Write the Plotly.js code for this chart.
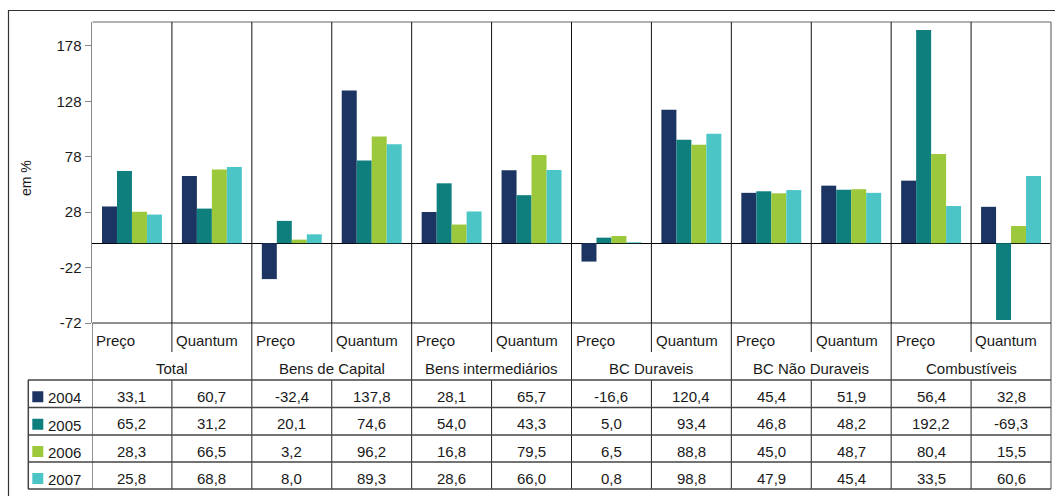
<!DOCTYPE html>
<html><head><meta charset="utf-8">
<script src="https://cdn.plot.ly/plotly-3.0.1.min.js"></script>
<style>html,body{margin:0;padding:0;background:#fff}#chart{width:1055px;height:496px}</style>
</head><body><div id="chart"></div>
<script>
const groups = ["Total","Bens de Capital","Bens intermediários","BC Duraveis","BC Não Duraveis","Combustíveis"];
const subLabels = ["Preço","Quantum"];
const years = ["2004","2005","2006","2007"];
const v2004 = [33.1,60.7,-32.4,137.8,28.1,65.7,-16.6,120.4,45.4,51.9,56.4,32.8];
const v2005 = [65.2,31.2,20.1,74.6,54.0,43.3,5.0,93.4,46.8,48.2,192.2,-69.3];
const v2006 = [28.3,66.5,3.2,96.2,16.8,79.5,6.5,88.8,45.0,48.7,80.4,15.5];
const v2007 = [25.8,68.8,8.0,89.3,28.6,66.0,0.8,98.8,47.9,45.4,33.5,60.6];
const yTicks = [-72,-22,28,78,128,178];
const yTitle = "em %";

const series = [v2004, v2005, v2006, v2007];
const colors = ["#1c3462","#0f7f7e","#9cc83c","#4cc5c6"];
const FONT = "Liberation Sans, Arial, sans-serif";
const TXT = "#1a1a1a";

const nCat = groups.length * subLabels.length;
const idx = Array.from({length:nCat}, (_, i) => i);

const P = {l:92, t:22, w:959, h:301};
const px = p => (p - P.l) / P.w;
const py = p => (P.t + P.h - p) / P.h;

const traces = series.map((vals, s) => ({
  type: "bar", x: idx, y: vals, name: years[s],
  marker: {color: colors[s], line: {width: 0}},
  hoverinfo: "skip", showlegend: false
}));

const shapes = [];
const line = (x0, y0, x1, y1, color, width, xref) => shapes.push({
  type: "line", xref: xref || "paper", yref: "paper", x0, y0, x1, y1,
  line: {color, width}
});

// outer frame
shapes.push({type:"rect", xref:"paper", yref:"paper", x0:px(8.5), x1:px(1070), y0:py(10.5), y1:py(520), line:{color:"#333", width:1.2}});
// plot top and right borders
line(px(92.5), 1, px(1051), 1, "#999", 1.5);
line(px(1051), 1, px(1051), py(489), "#888", 1.5);
// plot bottom
line(px(92.5), 0, px(1051), 0, "#222", 1);
// category separators inside plot
for (let k = 1; k < nCat; k++) line(k - 0.5, 0, k - 0.5, 1, "#111", 1, "x");
// separators below plot
for (let k = 0; k < nCat; k++) {
  if (k % 2 === 0) line(k - 0.5, 0, k - 0.5, py(489), "#222", 1, "x");
  else { line(k - 0.5, 0, k - 0.5, py(352), "#222", 1, "x"); line(k - 0.5, py(380), k - 0.5, py(489), "#222", 1, "x"); }
}
// table horizontal lines
const rowLines = [380, 407.5, 435, 462, 489];
rowLines.forEach(r => line(px(28), py(r), px(1051), py(r), "#444", 1.5));
line(px(28.3), py(380), px(28.3), py(489), "#444", 1.5);

const annotations = [];
// y title
annotations.push({xref:"paper", yref:"paper", x:px(26), y:py(178), xanchor:"center", yanchor:"middle", text:yTitle, textangle:-90, showarrow:false, font:{family:FONT, size:14, color:TXT}});
// sub labels
idx.forEach(i => annotations.push({xref:"x", yref:"paper", x:i - 0.47, y:py(340), xanchor:"left", yanchor:"middle", text:subLabels[i % 2], showarrow:false, font:{family:FONT, size:15, color:TXT}}));
// group labels
groups.forEach((g, j) => annotations.push({xref:"x", yref:"paper", x:2 * j + 0.5, y:py(368), text:g, showarrow:false, yanchor:"middle", font:{family:FONT, size:15, color:TXT}}));
// table rows
const fmt = v => v.toFixed(1).replace(".", ",");
series.forEach((vals, s) => {
  const cy = (rowLines[s] + rowLines[s + 1]) / 2;
  shapes.push({type:"rect", xref:"paper", yref:"paper", x0:px(32.3), x1:px(43.3), y0:py(cy - 2.5), y1:py(cy + 8.5), fillcolor:colors[s], line:{width:0}});
  annotations.push({xref:"paper", yref:"paper", x:px(46), y:py(cy + 4), xanchor:"left", yanchor:"middle", text:years[s], showarrow:false, font:{family:FONT, size:15, color:TXT}});
  vals.forEach((v, i) => annotations.push({xref:"x", yref:"paper", x:i, y:py(cy + 2.5), yanchor:"middle", text:fmt(v), showarrow:false, font:{family:FONT, size:15, color:TXT}}));
});

const layout = {
  width: 1055, height: 496,
  margin: {l:P.l, r:1055 - P.l - P.w, t:P.t, b:496 - P.t - P.h, pad:0},
  paper_bgcolor: "#fff", plot_bgcolor: "#fff",
  barmode: "group", bargap: 0.25, bargroupgap: 0,
  xaxis: {range:[-0.5, nCat - 0.5], showticklabels:false, showgrid:false, zeroline:false, showline:false, ticks:"", fixedrange:true},
  yaxis: {range:[-72, 199.5], tickvals:yTicks, ticktext:yTicks.map(String), ticks:"outside", ticklen:6, tickcolor:"#888", tickwidth:1,
          showline:true, linecolor:"#888", linewidth:1.5, showgrid:false, zeroline:true, zerolinecolor:"#000", zerolinewidth:1,
          tickfont:{family:FONT, size:15, color:TXT}, fixedrange:true},
  shapes, annotations, showlegend:false
};

Plotly.newPlot("chart", traces, layout, {displayModeBar:false, staticPlot:true});
</script>
</body></html>
